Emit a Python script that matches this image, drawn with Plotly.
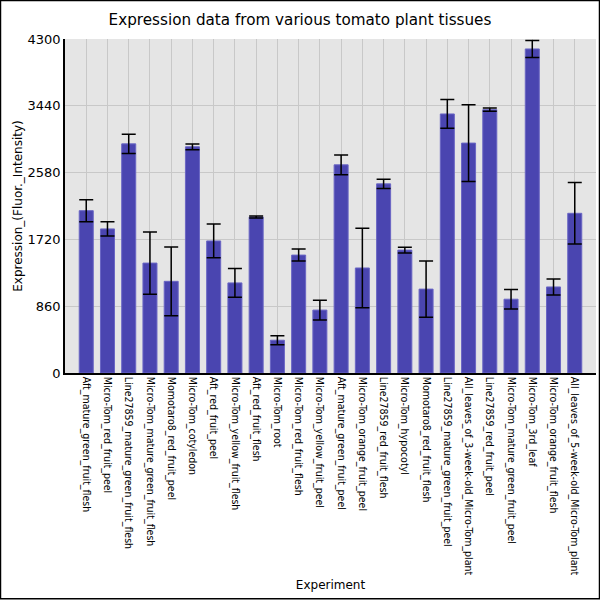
import plotly.graph_objects as go

experiments = [
    "Aft_mature_green_fruit_flesh",
    "Micro-Tom_red_fruit_peel",
    "Line27859_mature_green_fruit_flesh",
    "Micro-Tom_mature_green_fruit_flesh",
    "Momotaro8_red_fruit_peel",
    "Micro-Tom_cotyledon",
    "Aft_red_fruit_peel",
    "Micro-Tom_yellow_fruit_flesh",
    "Aft_red_fruit_flesh",
    "Micro-Tom_root",
    "Micro-Tom_red_fruit_flesh",
    "Micro-Tom_yellow_fruit_peel",
    "Aft_mature_green_fruit_peel",
    "Micro-Tom_orange_fruit_peel",
    "Line27859_red_fruit_flesh",
    "Micro-Tom_hypocotyl",
    "Momotaro8_red_fruit_flesh",
    "Line27859_mature_green_fruit_peel",
    "All_leaves_of_3-week-old_Micro-Tom_plant",
    "Line27859_red_fruit_peel",
    "Micro-Tom_mature_green_fruit_peel",
    "Micro-Tom_3rd_leaf",
    "Micro-Tom_orange_fruit_flesh",
    "All_leaves_of_5-week-old_Micro-Tom_plant",
]

expression = [2090, 1855, 2950, 1415, 1180, 2912, 1700, 1160, 2008, 422, 1518, 810,
              2680, 1352, 2435, 1582, 1080, 3335, 2960, 3390, 950, 4172, 1108, 2056]

std_dev = [142, 92, 125, 400, 443, 37, 217, 185, 13, 58, 77, 127,
           127, 512, 60, 36, 361, 185, 494, 21, 125, 110, 103, 395]

y_ticks = [0, 860, 1720, 2580, 3440, 4300]

fig = go.Figure(go.Bar(
    x=experiments, y=expression,
    width=0.66,
    marker=dict(color="#4a45b0", line=dict(color="#6a66c4", width=1)),
    error_y=dict(type="data", array=std_dev, visible=True,
                 color="black", thickness=1.5, width=7),
))

fig.update_layout(
    width=600, height=600,
    paper_bgcolor="white", plot_bgcolor="#e5e5e5",
    font=dict(family="DejaVu Sans", color="black"),
    title=dict(text="Expression data from various tomato plant tissues",
               x=0.5, xanchor="center", y=0.967, yanchor="middle",
               font=dict(size=15.2)),
    margin=dict(l=65, r=4, t=39, b=227),
    showlegend=False,
    # black frame round the whole picture
    shapes=[dict(type="rect", xref="paper", yref="paper",
                 x0=-0.1215, x1=1.0066, y0=-0.676, y1=1.1155,
                 line=dict(color="black", width=1.5), fillcolor="rgba(0,0,0,0)",
                 layer="above")],
)

fig.update_xaxes(
    title=dict(text="Experiment", font=dict(size=12), standoff=6),
    automargin=False,
    tickangle=90, tickfont=dict(size=10.5, family="DejaVu Sans Condensed"),
    range=[-1, 24], showgrid=True, gridcolor="#c8c8c8", gridwidth=1,
    showline=True, linecolor="black", linewidth=1.5, ticks="",
)
fig.update_yaxes(
    title=dict(text="Expression_(Fluor._Intensity)", font=dict(size=12), standoff=2),
    automargin=False,
    range=[0, 4300], tickvals=y_ticks, tickfont=dict(size=13),
    showgrid=True, gridcolor="#c8c8c8", gridwidth=1, zeroline=False,
    showline=True, linecolor="black", linewidth=1.5, ticks="",
)

fig.write_html("out.html", config={"displayModeBar": False},
               post_script="document.body.style.margin='0';")
